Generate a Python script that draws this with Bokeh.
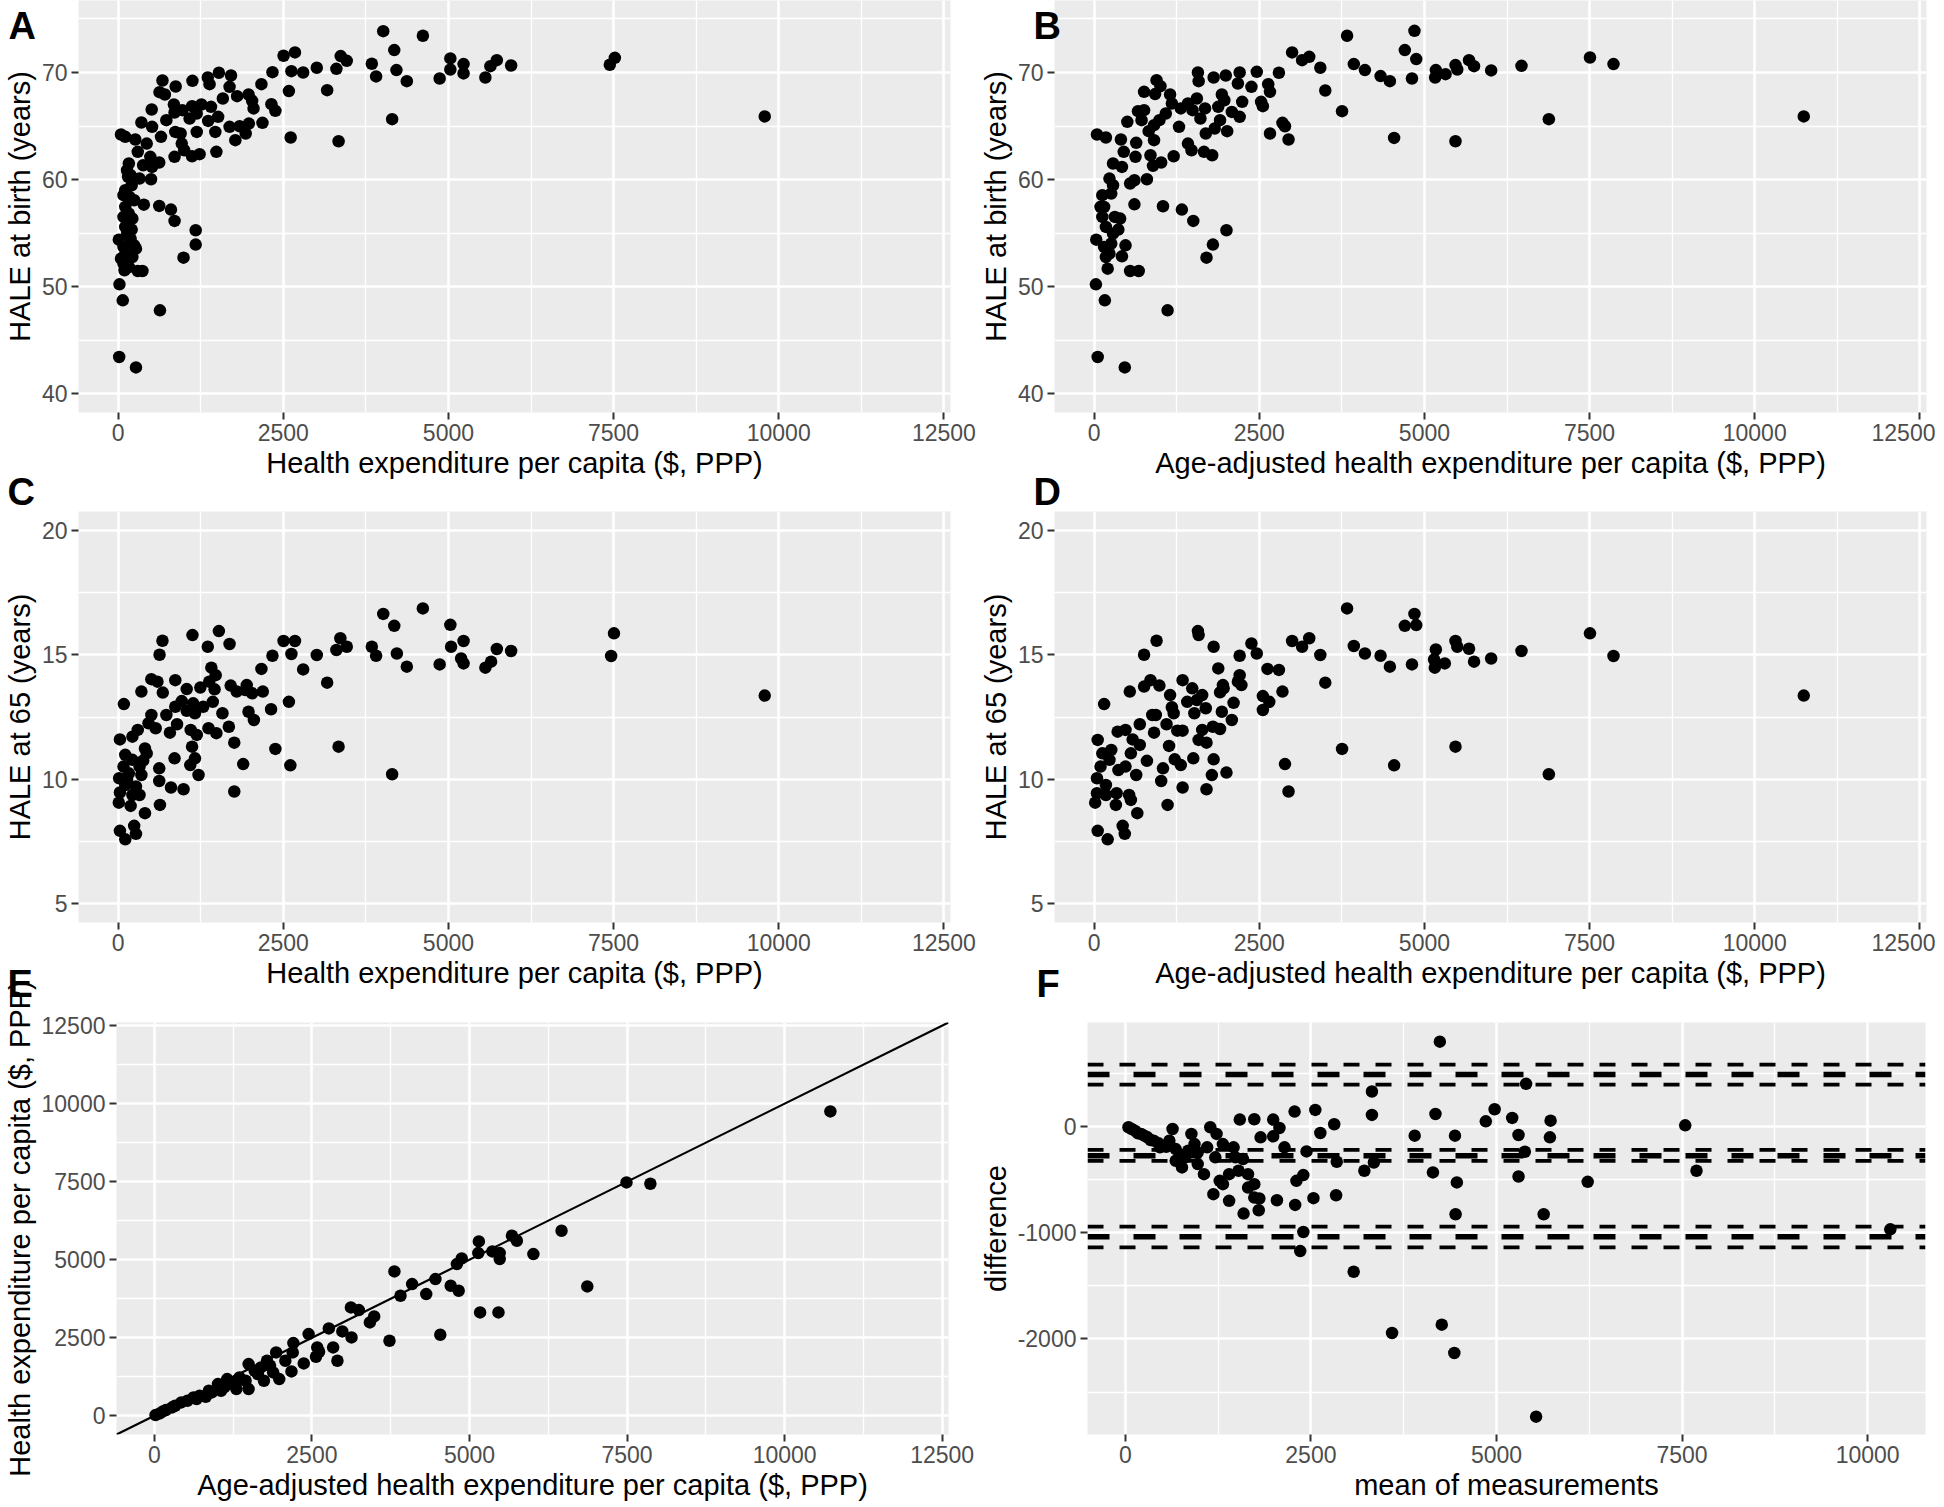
from bokeh.plotting import figure
from bokeh.models import FixedTicker, Label, Span, Slope, Range1d
from bokeh.layouts import row, column
from bokeh.embed import file_html
from bokeh.resources import INLINE

FONT = "Liberation Sans"

# ---------------- data ----------------
# Panel A: health expenditure per capita vs HALE at birth
a_pairs = [(4013,73.86),(4613,73.43),(4180,72.09),(2504,71.56),(2677,71.87),(3369,71.53),(3461,71.09),
 (5029,71.31),(5229,70.78),(5732,71.15),(5635,70.59),(5949,70.65),(3840,70.81),(3007,70.44),(3304,70.34),
 (4213,70.22),(5029,70.28),(5229,69.91),(3905,69.63),(4370,69.19),(4867,69.44),(5559,69.53),(2336,70.03),
 (2623,70.12),(2801,70.0),(2169,68.91),(2585,68.26),(3164,68.35),(4148,65.64),(2612,63.93),(3337,63.58),
 (7443,70.72),(7519,71.37),(9788,65.9),
 (1525,69.97),(1709,69.72),(1357,69.53),(1384,68.91),(1125,69.22),(671,69.25),(871,68.69),(1687,68.66),
 (627,68.16),(708,67.94),(1585,67.57),(1801,67.79),(1974,67.94),(2028,67.35),(2050,66.64),(2380,66.42),
 (2320,67.04),(2185,65.30),(844,67.01),(508,66.54),(854,66.26),(973,66.48),(1119,66.85),(1260,67.01),
 (1406,66.79),(1514,65.86),(1363,65.48),(1190,66.17),(1082,65.70),(352,65.33),(514,64.92),(730,65.55),
 (1190,64.45),(1471,64.45),(1687,64.92),(1839,64.98),(1979,65.23),(1931,64.30),(1774,63.68),(43,64.21),
 (108,63.99),(260,63.74),(865,64.45),(946,64.30),(649,63.99),(433,63.36),(297,62.59),(963,63.36),
 (1000,62.74),(1487,62.59),(1233,62.37),(1119,62.18),(854,62.12),(622,61.59),(487,62.12),(379,61.34),
 (162,61.50),(514,61.18),(151,60.25),(324,60.09),(498,60.03),(205,59.47),(108,59.00),(81,58.54),
 (173,58.38),(389,57.66),(622,57.54),(800,57.20),(854,56.14),(108,57.45),(81,56.51),(216,56.36),
 (108,55.58),(205,55.33),(1174,55.27),(1174,53.93),(990,52.71),(10,54.39),(81,53.71),(243,53.86),
 (108,53.08),(216,52.77),(81,52.15),(97,51.53),(297,51.46),(368,51.46),(20,50.22),(70,48.72),
 (633,47.79),(16,43.43),(270,42.46),(135,60.87),(189,60.40),(243,58.07),(162,56.82),(135,54.95),
 (189,54.49),(270,53.55),(43,52.62),(162,51.84)]

# Panel B: age-adjusted health expenditure vs HALE at birth
b_pairs = [(3829,73.43),(4849,73.89),(4703,72.09),(4876,71.25),(2997,71.87),(3148,71.15),(3256,71.46),
 (3424,70.44),(3931,70.78),(4099,70.22),(4336,69.66),(4477,69.19),(4811,69.44),(5173,70.22),(5162,69.53),
 (5319,69.84),(5470,70.69),(5497,70.28),(5675,71.15),(5751,70.59),(6010,70.19),(6469,70.62),(7506,71.40),
 (7862,70.78),(6883,65.64),(10742,65.9),(3499,68.32),(3753,66.39),(4541,63.89),(5470,63.58),(2462,70.06),
 (2797,69.97),(2203,70.0),(2176,68.97),(2381,68.66),(2635,68.91),(2662,68.19),(1993,69.72),(1809,69.53),
 (1571,70.0),(1582,69.19),(2241,67.26),(2554,66.85),(2527,67.26),(2084,66.32),(2203,65.86),(1933,67.94),
 (1971,67.41),(1879,66.79),(2662,64.30),(2851,65.30),(2889,64.98),(2943,63.74),(945,69.28),(1004,68.72),
 (756,68.19),(923,67.98),(1150,67.94),(1177,67.10),(1312,66.64),(1555,67.57),(1420,67.10),(1679,66.64),
 (1609,65.70),(1490,66.48),(1085,66.17),(1285,64.92),(988,65.55),(664,66.39),(756,66.48),(502,65.39),
 (718,65.55),(907,65.08),(826,64.52),(1690,64.30),(1825,64.77),(1906,65.55),(2014,64.52),(43,64.21),
 (178,63.93),(405,63.74),(637,63.43),(907,63.68),(1420,63.36),(1474,62.74),(1663,62.59),(1787,62.27),
 (1204,62.18),(1015,61.59),(891,61.28),(448,62.59),(626,62.12),(853,62.27),(286,61.50),(421,61.18),
 (610,59.94),(799,60.03),(545,59.63),(232,60.09),(286,59.47),(124,58.54),(259,58.69),(610,57.69),
 (1042,57.51),(1328,57.20),(1501,56.14),(2003,55.27),(1798,53.93),(1701,52.71),(151,57.45),(313,56.51),
 (394,56.36),(178,55.58),(367,55.33),(32,54.39),(151,53.71),(259,54.02),(475,53.86),(178,52.77),
 (421,52.83),(205,51.68),(545,51.46),(675,51.46),(27,50.22),(162,48.72),(1112,47.79),(54,43.43),
 (464,42.46),(97,57.45),(286,54.95),(232,53.08),(124,56.51)]

# Panel C: health expenditure vs HALE at 65
c_pairs = [(4013,16.64),(4613,16.86),(4180,16.16),(5029,16.20),(5229,15.55),(5040,15.32),(5732,15.23),
 (5949,15.15),(5192,14.85),(5229,14.65),(5559,14.48),(5646,14.72),(4867,14.61),(4370,14.52),(4219,15.05),
 (3840,15.32),(3905,14.96),(3364,15.66),(3461,15.32),(3304,15.19),(2504,15.55),(2677,15.55),(2623,15.03),
 (2336,14.96),(3007,14.99),(2801,14.41),(2169,14.43),(3164,13.88),(2585,13.11),(2315,12.81),(2380,11.22),
 (2607,10.56),(3337,11.31),(4148,10.20),(7506,15.86),(7463,14.95),(9788,13.36),(1125,15.79),(1525,15.95),
 (1687,15.43),(1357,15.32),(671,15.56),(627,15.0),(1411,14.48),(1476,14.18),(1704,13.76),(1947,13.78),
 (2028,13.45),(2190,13.52),(1795,13.52),(1925,13.58),(503,14.02),(595,13.92),(865,13.98),(352,13.52),
 (676,13.48),(1038,13.62),(1244,13.68),(1379,13.92),(1460,13.61),(87,13.02),(963,13.14),(1136,13.05),
 (1287,12.91),(1433,13.11),(1579,12.65),(730,12.58),(865,12.91),(1038,12.75),(1163,12.65),(503,12.58),
 (460,12.25),(892,12.21),(568,12.05),(297,11.98),(784,11.87),(1098,11.98),(1368,12.05),(1487,11.85),
 (1676,12.11),(1974,12.71),(2055,12.38),(1190,11.78),(27,11.60),(216,11.71),(406,11.24),(108,10.98),
 (216,10.78),(379,10.75),(1119,11.31),(1758,11.47),(854,10.84),(1163,10.84),(1092,10.57),(1217,10.17),
 (1893,10.61),(622,10.44),(352,10.17),(16,10.04),(135,9.97),(622,9.93),(800,9.67),(990,9.60),(1758,9.51),
 (27,9.47),(216,9.37),(324,9.37),(10,9.06),(189,8.93),(633,8.97),(406,8.64),(27,7.93),(243,8.13),
 (270,7.81),(108,7.59),(81,10.51),(162,10.24),(108,9.77),(270,9.71),(324,10.51),(433,11.04)]

# Panel D: age-adjusted health expenditure vs HALE at 65
d_pairs = [(3829,16.86),(4849,16.64),(4703,16.16),(4876,16.19),(5470,15.55),(5497,15.32),(5675,15.24),
 (5173,15.21),(5146,14.81),(5157,14.48),(5308,14.65),(5751,14.72),(6010,14.85),(6469,15.15),(7506,15.86),
 (7862,14.95),(4811,14.61),(4477,14.52),(4336,14.96),(4099,15.05),(3931,15.35),(3424,14.99),(3499,13.88),
 (2997,15.55),(3148,15.32),(3256,15.66),(2381,15.45),(2462,15.05),(2203,14.96),(2624,14.43),(2797,14.39),
 (2851,13.52),(2554,13.34),(2651,13.11),(2554,12.78),(3753,11.22),(4541,10.56),(5470,11.31),(6883,10.20),
 (2889,10.61),(2943,9.51),(10742,13.36),(1571,15.95),(1582,15.79),(945,15.56),(1809,15.32),(756,15.0),
 (1879,14.45),(2203,14.18),(2176,13.92),(2230,13.78),(1949,13.78),(1960,13.65),(1906,13.49),(2111,13.07),
 (1933,12.71),(2084,12.38),(853,13.98),(988,13.76),(1150,13.38),(1339,13.98),(1485,13.65),(1636,13.38),
 (540,13.52),(756,13.72),(151,13.02),(1177,12.89),(1204,12.65),(1409,13.11),(1517,12.65),(1690,12.85),
 (1555,13.18),(880,12.58),(934,12.58),(1096,12.21),(907,11.87),(691,12.21),(1258,11.95),(1339,11.95),
 (1636,11.98),(1798,12.11),(1906,12.02),(1582,11.58),(1701,11.47),(1134,11.34),(356,11.91),(475,11.98),
 (583,11.60),(691,11.38),(556,11.04),(54,11.58),(259,11.18),(124,11.04),(799,10.74),(1220,10.80),
 (1312,10.57),(1501,10.84),(1809,10.80),(1042,10.44),(1782,10.17),(2003,10.27),(1015,9.93),(1339,9.67),
 (1701,9.60),(1112,8.97),(653,8.64),(43,10.04),(97,10.51),(232,10.78),(367,10.37),(475,10.51),(637,10.17),
 (178,9.77),(43,9.44),(178,9.37),(340,9.44),(529,9.37),(556,9.17),(16,9.06),(329,8.97),(54,7.93),
 (432,8.13),(464,7.81),(205,7.59)]

# Panel E: age-adjusted vs crude health expenditure per capita
e_pairs = [(10726,9751),(7491,7476),(7870,7433),(6461,5927),(6869,4144),(6014,5180),(5674,5767),(5752,5607),
 (5149,5586),(5363,5265),(5480,5212),(5480,5020),(5140,5212),(4877,5041),(4800,4859),(5169,3311),(5460,3311),
 (4537,2595),(3809,4624),(4460,4379),(4090,4219),(4702,4165),(4829,4005),(4314,3898),(3906,3845),(3731,2403),
 (3119,3471),(3245,3386),(3420,2990),(3488,3183),(3129,2510),(2983,2702),(2769,2798),(2837,2189),(2905,1762),
 (2614,2051),(2585,2189),(2448,2617),(2565,1890),(2371,1677),(2206,2328),(2196,2029),(1933,2029),(2176,1420),
 (1982,1175),(1788,1762),(1691,1549),(1496,1655),(1593,1442),(1885,1388),(1739,1121),(1448,1121),(1302,854),
 (1496,854),(1156,1175),(1010,1015),(913,748),(719,641),(622,587),(428,427),(282,267),(136,139),(19,21),
 (87,75),(185,182),(330,320),(525,481),(816,609),(1059,801),(1253,1015),(1351,1228),(1642,1335),(1836,1602),
 (2079,1762),(1302,1121),(1108,908),(865,801),(670,534)]

# Panel F: Bland-Altman (mean of measurements, difference)
f_pairs = [(4237,796),(5399,399),(3322,327),(2280,138),(2559,154),(4975,160),(4178,116),(3322,107),(4856,47),
 (5212,79),(5729,53),(7543,9),(2814,19),(2627,-63),(3898,-88),(4441,-88),(5297,-82),(5720,-104),(1992,63),
 (1737,66),(1542,63),(2076,-16),(1992,-94),(1822,-104),(2144,-198),(2441,-236),(5382,-239),(2848,-333),
 (3348,-340),(3220,-418),(4144,-434),(5297,-472),(7695,-418),(6229,-522),(4466,-528),(2398,-459),(2305,-513),
 (2534,-676),(2839,-648),(2288,-739),(2042,-695),(1805,-679),(1797,-789),(1593,-821),(4449,-827),(5636,-827),
 (2398,-994),(2356,-1173),(3076,-1368),(3593,-1944),(4263,-1865),(4432,-2132),(5534,-2730),(10306,-969),
 (1458,-198),(1483,-292),(1525,-418),(1314,-544),(1186,-638),(1398,-701),(1653,-576),(1737,-544),(1144,-9),
 (1229,-72),(1314,-167),(1102,-198),(1212,-292),(1059,-450),(975,-355),(890,-72),(932,-167),(847,-230),
 (763,-387),(678,-324),(636,-25),(593,-135),(466,-198),(381,-135),(297,-104),(212,-72),(127,-41),(42,-9),
 (85,-25),(170,-66),(254,-88),(339,-129),(449,-160),(551,-192),(678,-214),(737,-267),(805,-292),(975,-245),
 (1585,-308),(1398,-450),(1271,-513),(1653,-450),(1737,-670)]

# Bland-Altman reference lines: bias and limits of agreement, each with its CI
ba_bias = -276
ba_bias_ci = [-222, -325]
ba_upper = 486
ba_upper_ci = [580, 392]
ba_lower = -1038
ba_lower_ci = [-944, -1138]

# ticks
exp_ticks = [0, 2500, 5000, 7500, 10000, 12500]
exp_minor = [1250, 3750, 6250, 8750, 11250]
exp_labels = ["0", "2500", "5000", "7500", "10000", "12500"]
hale_ticks = [40, 50, 60, 70]
hale_minor = [45, 55, 65, 75]
hale_labels = ["40", "50", "60", "70"]
h65_ticks = [5, 10, 15, 20]
h65_minor = [7.5, 12.5, 17.5]
h65_labels = ["5", "10", "15", "20"]
mean_ticks = [0, 2500, 5000, 7500, 10000]
mean_minor = [1250, 3750, 6250, 8750]
mean_labels = ["0", "2500", "5000", "7500", "10000"]
diff_ticks = [-2000, -1000, 0]
diff_minor = [-2500, -1500, -500, 500]
diff_labels = ["-2000", "-1000", "0"]

T_HE = "Health expenditure per capita ($, PPP)"
T_AA = "Age-adjusted health expenditure per capita ($, PPP)"


def make_fig(xr, yr, fw, fh, bl, br, bt, bb, margin=None):
    p = figure(x_range=xr, y_range=yr, frame_width=fw, frame_height=fh,
               min_border_left=bl, min_border_right=br, min_border_top=bt,
               min_border_bottom=bb, output_backend="svg", toolbar_location=None,
               tools="", margin=margin)
    p.background_fill_color = "#EBEBEB"
    p.border_fill_color = None
    p.outline_line_color = None
    for g in (p.xgrid[0], p.ygrid[0]):
        g.grid_line_color = "white"
        g.grid_line_width = 2.6
        g.minor_grid_line_color = "white"
        g.minor_grid_line_width = 1.3
    for ax in (p.xaxis[0], p.yaxis[0]):
        ax.axis_line_color = None
        ax.major_tick_in = 0
        ax.major_tick_out = 7
        ax.major_tick_line_color = "#333333"
        ax.major_tick_line_width = 2
        ax.minor_tick_line_color = None
        ax.major_label_text_font = FONT
        ax.major_label_text_font_size = "23px"
        ax.major_label_text_color = "#4D4D4D"
        ax.major_label_standoff = 4
        ax.axis_label_text_font = FONT
        ax.axis_label_text_font_size = "29px"
        ax.axis_label_text_font_style = "normal"
        ax.axis_label_text_color = "black"
        ax.axis_label_standoff = 3
    return p


def set_axis(p, dim, ticks, minor, labels, title):
    tk = FixedTicker(ticks=ticks, minor_ticks=minor)
    ax = p.xaxis[0] if dim == "x" else p.yaxis[0]
    g = p.xgrid[0] if dim == "x" else p.ygrid[0]
    ax.ticker = tk
    g.ticker = tk
    ax.major_label_overrides = {t: l for t, l in zip(ticks, labels)}
    ax.axis_label = title


def points(p, pairs):
    xs = [v[0] for v in pairs]
    ys = [v[1] for v in pairs]
    p.scatter(xs, ys, size=12.5, fill_color="black", line_color=None)


XR = (-600, 12600)
SHIFT = (0, 0, 0, -40)   # right-hand panels tuck under the left panels' overflow

pA = make_fig(XR, (38.25, 76.72), 872, 412, 71, 50, 0, 86)
set_axis(pA, "x", exp_ticks, exp_minor, exp_labels, T_HE)
set_axis(pA, "y", hale_ticks, hale_minor, hale_labels, "HALE at birth (years)")
points(pA, a_pairs)

pB = make_fig(XR, (38.25, 76.72), 872, 412, 94, 9, 0, 86, margin=SHIFT)
set_axis(pB, "x", exp_ticks, exp_minor, exp_labels, T_AA)
set_axis(pB, "y", hale_ticks, hale_minor, hale_labels, "HALE at birth (years)")
points(pB, b_pairs)

pC = make_fig(XR, (4.25, 20.75), 872, 411, 71, 50, 43, 76)
set_axis(pC, "x", exp_ticks, exp_minor, exp_labels, T_HE)
set_axis(pC, "y", h65_ticks, h65_minor, h65_labels, "HALE at 65 (years)")
points(pC, c_pairs)

pD = make_fig(XR, (4.25, 20.75), 872, 411, 94, 9, 43, 76, margin=SHIFT)
set_axis(pD, "x", exp_ticks, exp_minor, exp_labels, T_AA)
set_axis(pD, "y", h65_ticks, h65_minor, h65_labels, "HALE at 65 (years)")
points(pD, d_pairs)

pE = make_fig(XR, XR, 832, 412, 111, 50, 74, 65)
set_axis(pE, "x", exp_ticks, exp_minor, exp_labels, T_AA)
set_axis(pE, "y", exp_ticks, exp_minor, exp_labels, T_HE)
pE.add_layout(Slope(gradient=1, y_intercept=0, line_color="black", line_width=2.2))
points(pE, e_pairs)

pF = make_fig((-510, 10780), (-2898, 976), 838, 412, 129, 8, 74, 65, margin=SHIFT)
set_axis(pF, "x", mean_ticks, mean_minor, mean_labels, "mean of measurements")
set_axis(pF, "y", diff_ticks, diff_minor, diff_labels, "difference")
points(pF, f_pairs)
for v in (ba_bias, ba_upper, ba_lower):
    pF.add_layout(Span(location=v, dimension="width", line_color="black",
                       line_width=5.5, line_dash="22 24"))
for v in ba_bias_ci + ba_upper_ci + ba_lower_ci:
    pF.add_layout(Span(location=v, dimension="width", line_color="black",
                       line_width=3.7, line_dash="16 16"))

# transparent overlay carrying the panel tags (A-F), in page pixel space
TOTAL_W, TOTAL_H = 1928, 1499
ov = figure(x_range=Range1d(0, TOTAL_W), y_range=Range1d(TOTAL_H, 0),
            frame_width=TOTAL_W, frame_height=TOTAL_H, min_border=0,
            x_axis_type=None, y_axis_type=None, output_backend="svg",
            toolbar_location=None, tools="", margin=(-TOTAL_H, 0, 0, 0))
ov.background_fill_color = None
ov.border_fill_color = None
ov.outline_line_color = None
for txt, tx, ty in (("A", 8, 21), ("B", 1033, 21), ("C", 7, 487),
                    ("D", 1033, 487), ("E", 7, 979), ("F", 1036, 979)):
    ov.add_layout(Label(x=tx, y=ty, text=txt, text_font=FONT, text_font_style="bold",
                        text_font_size="38px", text_color="black", text_align="left",
                        text_baseline="alphabetic"))

r1 = row(pA, pB)
r2 = row(pC, pD, margin=(-30, 0, 0, 0))
r3 = row(pE, pF, margin=(-50, 0, 0, 0))
layout = column(r1, r2, r3, ov)

open("out.html", "w").write(file_html(layout, INLINE))
